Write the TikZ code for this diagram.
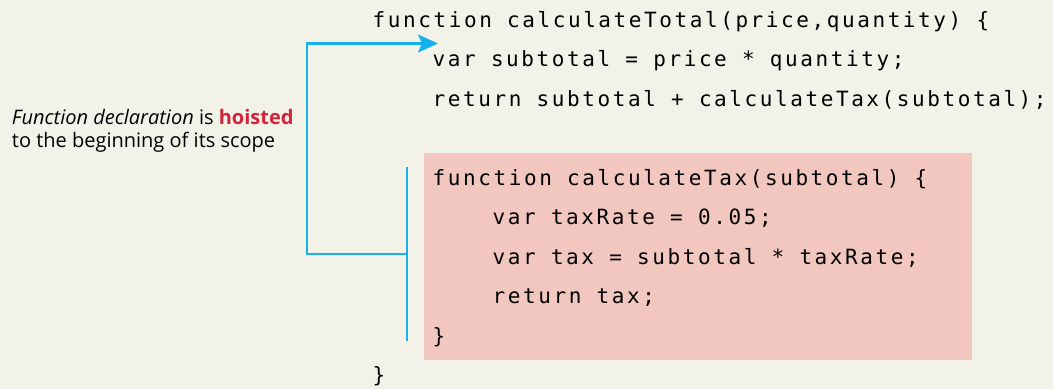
\documentclass[tikz,border=0pt]{standalone}
\usepackage{fontspec}
\setmainfont{Open Sans}
\newfontfamily\codefont[LetterSpace=12.3]{DejaVu Sans Mono}
\usetikzlibrary{arrows.meta}

\definecolor{paper}{HTML}{F3F2E8}
\definecolor{scopepink}{HTML}{F1C7BF}
\definecolor{hoistblue}{HTML}{17B2EC}
\definecolor{hoistred}{HTML}{D1243A}

\tikzset{
  code/.style={anchor=base west, inner sep=0pt, outer sep=0pt,
               font=\codefont\fontsize{21}{21}\selectfont, text=black},
  note/.style={anchor=base west, inner sep=0pt, outer sep=0pt,
               font=\fontsize{20}{20}\selectfont, text=black},
  hoistline/.style={draw=hoistblue, line width=2.2pt},
}

\begin{document}
\begin{tikzpicture}[x=1pt, y=-1pt]
  % canvas
  \fill[paper] (0,0) rectangle (1053,389);
  \useasboundingbox (0,0) rectangle (1053,389);

  % inner function body
  \fill[scopepink] (424,152.5) rectangle (971.5,359.5);

  % outer function
  \node[code] (l1) at (372.7,27.3)  {function calculateTotal(price,quantity) \{};
  \node[code] (l2) at (432.7,66.8)  {var subtotal = price * quantity;};
  \node[code] (l3) at (432.7,106.3) {return subtotal + calculateTax(subtotal);};

  % hoisted declaration
  \node[code] (l4) at (432.7,185.3) {function calculateTax(subtotal) \{};
  \node[code] (l5) at (492.7,224.8) {var taxRate = 0.05;};
  \node[code] (l6) at (492.7,264.3) {var tax = subtotal * taxRate;};
  \node[code] (l7) at (492.7,303.8) {return tax;};
  \node[code] (l8) at (432.7,343.3) {\}};
  \node[code] (l9) at (372.7,382.8) {\}};

  % explanation
  \node[note] (n1) at (12,124) {\textit{Function declaration} is \textcolor{hoistred}{\textbf{hoisted}}};
  \node[note] (n2) at (12,147.7) {to the beginning of its scope};

  % bracket and hoisting arrow
  \coordinate (btop) at (407.3,166.7);
  \coordinate (bbot) at (407.3,341);
  \coordinate (bmid) at (407.3,254);
  \coordinate (corner1) at (307.3,254);
  \coordinate (corner2) at (307.3,43.5);
  \coordinate (tip) at (438,43.5);
  \draw[hoistline] (btop) -- (bbot);
  \draw[hoistline, -{Stealth[length=20pt, width=18pt, inset=4pt]}]
    (bmid) -- (corner1) -- (corner2) -- (tip);
\end{tikzpicture}
\end{document}
